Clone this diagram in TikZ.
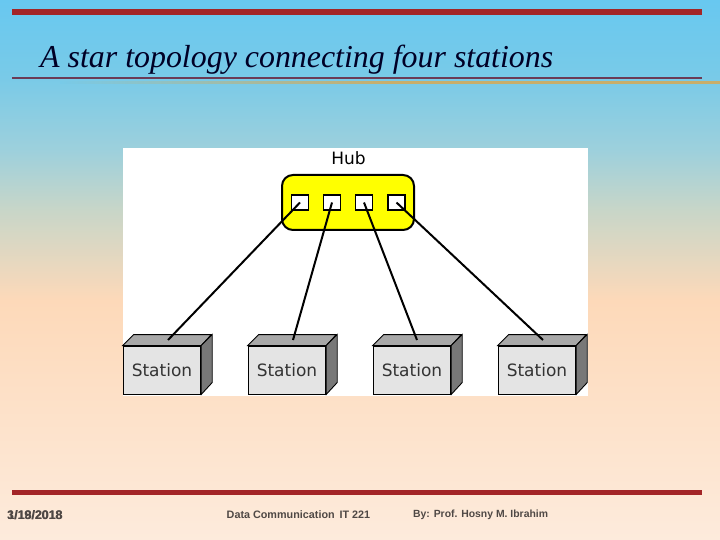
\documentclass[tikz,border=0pt]{standalone}
\usepackage{fontspec}
\setmainfont{Liberation Sans}
\newfontfamily\titlefont{Liberation Serif}
\newfontfamily\figfont{DejaVu Sans}
\definecolor{barred}{HTML}{A32527}
\definecolor{titleline}{HTML}{6B3B55}
\definecolor{goldline}{HTML}{C9AE6A}
\definecolor{foot}{HTML}{4F4845}
\definecolor{bgA}{HTML}{68C8F0}
\definecolor{bgB}{HTML}{78CAE8}
\definecolor{bgC}{HTML}{9DD0DC}
\definecolor{bgD}{HTML}{C8D6C8}
\definecolor{bgE}{HTML}{FDD9B9}
\definecolor{bgF}{HTML}{FDEBDC}
\definecolor{hubyellow}{HTML}{FFFF00}
\definecolor{frontgray}{HTML}{E4E4E4}
\definecolor{topgray}{HTML}{A8A8A8}
\definecolor{sidegray}{HTML}{787878}
\tikzset{
  x=1pt,y=-1pt,
  portbox/.style={draw=black,line width=1.6pt,fill=white,minimum width=17pt,minimum height=15pt,inner sep=0pt,anchor=center},
  stationbox/.style={draw=black,line width=0.9pt,fill=frontgray,minimum width=77.5pt,minimum height=48pt,inner sep=0pt,font=\figfont\fontsize{17}{20}\selectfont,text=black!80},
  link/.style={draw=black,line width=2pt},
  footnote/.style={font=\fontsize{10.8}{12}\selectfont\bfseries,text=foot,anchor=west,inner sep=0pt}
}
\begin{document}
\begin{tikzpicture}
\useasboundingbox (0,0) rectangle (720,540);
\shade[top color=bgA,bottom color=bgB] (0,0) rectangle (720,75);
\shade[top color=bgB,bottom color=bgC] (0,75) rectangle (720,150);
\shade[top color=bgC,bottom color=bgD] (0,150) rectangle (720,210);
\shade[top color=bgD,bottom color=bgE] (0,210) rectangle (720,300);
\shade[top color=bgE,bottom color=bgF] (0,300) rectangle (720,540);
% bars
\fill[barred] (12,9) rectangle (702,15);
\fill[barred] (12,490) rectangle (702,495);
\fill[titleline] (12,77) rectangle (702,79);
\shade[left color=bgB,right color=goldline,middle color=goldline] (60,82) rectangle (720,84);
\node[font=\titlefont\itshape\fontsize{31.9}{34}\selectfont,text=black!85!blue,anchor=west,inner sep=0pt] (title) at (40,59.5) {A star topology connecting four stations};
% picture panel
\fill[white] (123,148) rectangle (588,396);
\node[font=\figfont\fontsize{17}{20}\selectfont,text=black,inner sep=0pt] (hublabel) at (348.5,158) {Hub};
\node[draw=black,line width=2pt,fill=hubyellow,rounded corners=11pt,minimum width=132pt,minimum height=55pt,inner sep=0pt] (hub) at (348,202.5) {};
\node[portbox] (p1) at (300,202.5) {};
\node[portbox] (p2) at (332,202.5) {};
\node[portbox] (p3) at (364,202.5) {};
\node[portbox] (p4) at (396.5,202.5) {};
% stations
\foreach \n/\cx/\tx in {1/162/168,2/287/293,3/412/417,4/537/543}{
  \node[stationbox] (s\n) at (\cx,370) {\raisebox{-1pt}{Station}};
  \draw[line width=0.9pt,fill=topgray] (s\n.north west) -- ++(11,-11) -- ++(77.5,0) -- (s\n.north east) -- cycle;
  \draw[line width=0.9pt,fill=sidegray] (s\n.north east) -- ++(11,-11) -- ++(0,48) -- (s\n.south east) -- cycle;
  \coordinate (t\n) at (\tx,340);
}
\draw[link] (p1.center) -- (t1);
\draw[link] (p2.center) -- (t2);
\draw[link] (p3.center) -- (t3);
\draw[link] (p4.center) -- (t4);
% footer
\node[footnote,font=\fontsize{12.4}{14}\selectfont\bfseries] (date) at (7,515) {3/19/2018};
\node[footnote,font=\fontsize{12.4}{14}\selectfont\bfseries] (date2) at (7.5,515) {1/18/2018};
\node[footnote] (course) at (226.5,515) {Data Communication\,\ IT 221};
\node[footnote,font=\fontsize{10.4}{12}\selectfont\bfseries] (author) at (413,515) {By: Prof. Hosny M. Ibrahim};
\end{tikzpicture}
\end{document}
